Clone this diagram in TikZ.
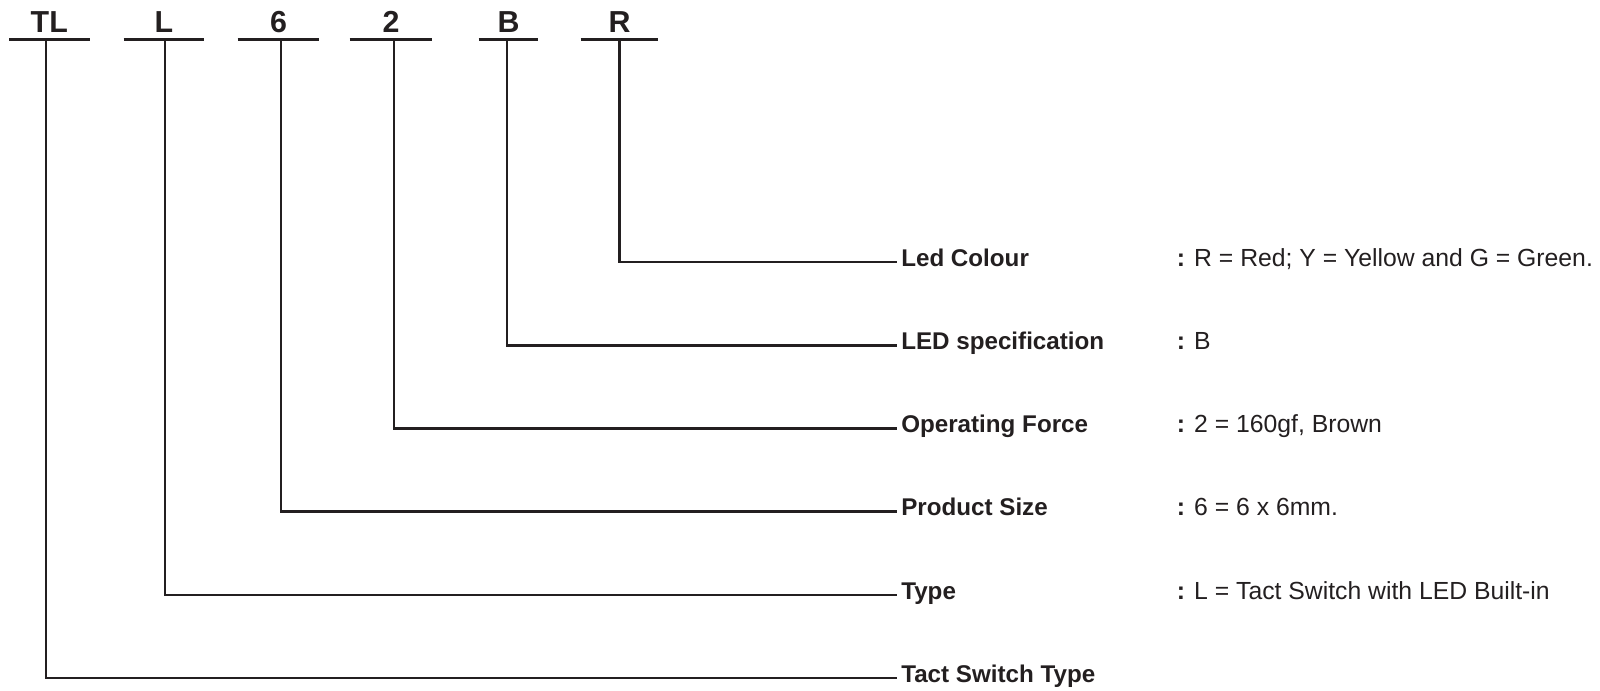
\documentclass[tikz,border=0pt]{standalone}
\usepackage{fontspec}
\setmainfont{Liberation Sans}
\usetikzlibrary{positioning}
\definecolor{ink}{RGB}{35,31,32}

\begin{document}
\begin{tikzpicture}[
    x=0.025cm, y=-0.025cm,
    code/.style={anchor=base,text depth=0pt,inner xsep=0pt,inner ysep=0.175cm,
      font=\fontsize{21.6}{26}\selectfont\bfseries,text=ink},
    part/.style={anchor=west,inner xsep=0.1cm,inner ysep=0pt,text height=0.6em,text depth=0pt,
      font=\fontsize{17.2}{20}\selectfont\bfseries,text=ink},
    val/.style={anchor=west,inner sep=0pt,text height=0.6em,text depth=0pt,
      font=\fontsize{17.6}{20}\selectfont,text=ink},
    lead/.style={draw=ink,line width=1.85pt},
  ]
  \useasboundingbox (0,0) rectangle (1600,691);

  %% Code letters
  \node[code,minimum width=2cm]     (cTL) at (49.3,32.3)  {TL};
  \node[code,minimum width=2cm]     (cL)  at (164,32.3)   {L};
  \node[code,minimum width=2.025cm] (c6)  at (278.5,32.3) {6};
  \node[code,minimum width=2.05cm]  (c2)  at (391,32.3)   {2};
  \node[code,minimum width=1.475cm] (cB)  at (508.5,32.3) {B};
  \node[code,minimum width=1.925cm] (cR)  at (619.5,32.3) {R};
  \foreach \c in {cTL,cL,c6,c2,cB,cR}
    \draw[lead] (\c.south west) -- (\c.south east);

  %% Part names
  \node[part] (pR)  at (897,262)   {Led Colour};
  \node[part] (pB)  at (897,345.2) {LED specification};
  \node[part] (p2)  at (897,428.4) {Operating Force};
  \node[part] (p6)  at (897,511.6) {Product Size};
  \node[part] (pL)  at (897,594.8) {Type};
  \node[part] (pTL) at (897,678)   {Tact Switch Type};

  %% Values
  \node[val] (vR) at (1176.5,262)   {\textbf{:} R = Red; Y = Yellow and G = Green.};
  \node[val] (vB) at (1176.5,345.2) {\textbf{:} B};
  \node[val] (v2) at (1176.5,428.4) {\textbf{:} 2 = 160gf, Brown};
  \node[val] (v6) at (1176.5,511.6) {\textbf{:} 6 = 6 x 6mm.};
  \node[val] (vL) at (1176.5,594.8) {\textbf{:} L = Tact Switch with LED Built-in};

  %% Leaders
  \draw[lead] (cR.south)                   |- (pR.west);
  \draw[lead] ([xshift=-0.0375cm]cB.south) |- (pB.west);
  \draw[lead] ([xshift=0.075cm]c2.south)   |- (p2.west);
  \draw[lead] ([xshift=0.0625cm]c6.south)  |- (p6.west);
  \draw[lead] ([xshift=0.025cm]cL.south)   |- (pL.west);
  \draw[lead] ([xshift=-0.083cm]cTL.south) |- (pTL.west);
\end{tikzpicture}
\end{document}
